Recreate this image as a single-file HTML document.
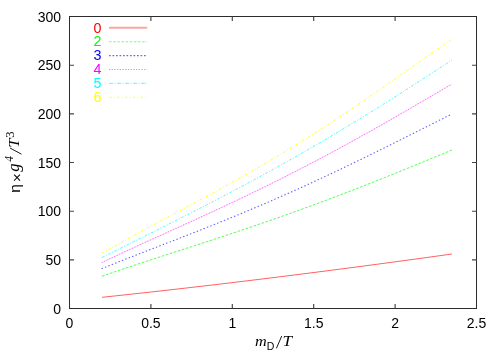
<!DOCTYPE html>
<html><head><meta charset="utf-8"><style>
html,body{margin:0;padding:0;background:#fff;}
svg{display:block;will-change:transform;font-family:"Liberation Sans",sans-serif;}
</style></head><body>
<svg width="500" height="350" viewBox="0 0 500 350">
<rect x="69.5" y="16.5" width="407.0" height="292.0" fill="none" stroke="#2c2c2c" stroke-width="1"/>
<path d="M150.9 308.5v-4.5M150.9 16.5v4.5" stroke="#444" stroke-width="1.15"/>
<path d="M232.3 308.5v-4.5M232.3 16.5v4.5" stroke="#444" stroke-width="1.15"/>
<path d="M313.7 308.5v-4.5M313.7 16.5v4.5" stroke="#444" stroke-width="1.15"/>
<path d="M395.1 308.5v-4.5M395.1 16.5v4.5" stroke="#444" stroke-width="1.15"/>
<path d="M69.5 259.8h4.5M476.5 259.8h-4.5" stroke="#444" stroke-width="1.15"/>
<path d="M69.5 211.2h4.5M476.5 211.2h-4.5" stroke="#444" stroke-width="1.15"/>
<path d="M69.5 162.5h4.5M476.5 162.5h-4.5" stroke="#444" stroke-width="1.15"/>
<path d="M69.5 113.8h4.5M476.5 113.8h-4.5" stroke="#444" stroke-width="1.15"/>
<path d="M69.5 65.2h4.5M476.5 65.2h-4.5" stroke="#444" stroke-width="1.15"/>
<text x="69.5" y="327.5" text-anchor="middle" font-size="14">0</text>
<text x="150.9" y="327.5" text-anchor="middle" font-size="14">0.5</text>
<text x="232.3" y="327.5" text-anchor="middle" font-size="14">1</text>
<text x="313.7" y="327.5" text-anchor="middle" font-size="14">1.5</text>
<text x="395.1" y="327.5" text-anchor="middle" font-size="14">2</text>
<text x="476.5" y="327.5" text-anchor="middle" font-size="14">2.5</text>
<text x="61" y="313.5" text-anchor="end" font-size="14">0</text>
<text x="61" y="264.8" text-anchor="end" font-size="14">50</text>
<text x="61" y="216.2" text-anchor="end" font-size="14">100</text>
<text x="61" y="167.5" text-anchor="end" font-size="14">150</text>
<text x="61" y="118.8" text-anchor="end" font-size="14">200</text>
<text x="61" y="70.2" text-anchor="end" font-size="14">250</text>
<text x="61" y="21.5" text-anchor="end" font-size="14">300</text>
<polyline points="102.0,297.30 107.0,296.77 112.0,296.24 117.0,295.71 122.0,295.17 127.0,294.63 132.0,294.09 137.0,293.54 142.0,292.99 147.0,292.44 152.0,291.89 157.0,291.33 162.0,290.77 167.0,290.21 172.0,289.64 177.0,289.07 182.0,288.50 187.0,287.93 192.0,287.35 197.0,286.77 202.0,286.19 207.0,285.60 212.0,285.02 217.0,284.43 222.0,283.83 227.0,283.24 232.0,282.64 237.0,282.04 242.0,281.44 247.0,280.83 252.0,280.23 257.0,279.62 262.0,279.00 267.0,278.39 272.0,277.77 277.0,277.15 282.0,276.53 287.0,275.90 292.0,275.27 297.0,274.64 302.0,274.01 307.0,273.38 312.0,272.74 317.0,272.10 322.0,271.46 327.0,270.81 332.0,270.17 337.0,269.52 342.0,268.87 347.0,268.22 352.0,267.56 357.0,266.90 362.0,266.24 367.0,265.58 372.0,264.92 377.0,264.25 382.0,263.58 387.0,262.91 392.0,262.24 397.0,261.56 402.0,260.89 407.0,260.21 412.0,259.53 417.0,258.84 422.0,258.16 427.0,257.47 432.0,256.78 437.0,256.09 442.0,255.39 447.0,254.70 452.0,254.00" fill="none" stroke="#ff0000" stroke-width="1" stroke-opacity="0.62"/>
<polyline points="102.0,276.19 107.0,274.47 112.0,272.76 117.0,271.06 122.0,269.38 127.0,267.71 132.0,266.04 137.0,264.39 142.0,262.75 147.0,261.11 152.0,259.48 157.0,257.85 162.0,256.23 167.0,254.61 172.0,252.99 177.0,251.37 182.0,249.76 187.0,248.14 192.0,246.52 197.0,244.89 202.0,243.27 207.0,241.64 212.0,240.00 217.0,238.36 222.0,236.71 227.0,235.06 232.0,233.40 237.0,231.73 242.0,230.05 247.0,228.36 252.0,226.67 257.0,224.96 262.0,223.25 267.0,221.52 272.0,219.79 277.0,218.04 282.0,216.28 287.0,214.51 292.0,212.73 297.0,210.93 302.0,209.13 307.0,207.31 312.0,205.48 317.0,203.63 322.0,201.78 327.0,199.91 332.0,198.03 337.0,196.14 342.0,194.24 347.0,192.32 352.0,190.40 357.0,188.46 362.0,186.51 367.0,184.55 372.0,182.58 377.0,180.60 382.0,178.61 387.0,176.61 392.0,174.60 397.0,172.58 402.0,170.56 407.0,168.53 412.0,166.49 417.0,164.44 422.0,162.39 427.0,160.33 432.0,158.27 437.0,156.21 442.0,154.15 447.0,152.08 452.0,150.01" fill="none" stroke="#00ff00" stroke-width="1" stroke-opacity="0.68" stroke-dasharray="2.6 1.6"/>
<polyline points="102.0,268.52 107.0,266.51 112.0,264.51 117.0,262.53 122.0,260.56 127.0,258.59 132.0,256.64 137.0,254.69 142.0,252.75 147.0,250.81 152.0,248.88 157.0,246.94 162.0,245.01 167.0,243.07 172.0,241.13 177.0,239.19 182.0,237.25 187.0,235.29 192.0,233.34 197.0,231.37 202.0,229.39 207.0,227.41 212.0,225.42 217.0,223.41 222.0,221.40 227.0,219.37 232.0,217.33 237.0,215.27 242.0,213.20 247.0,211.12 252.0,209.02 257.0,206.91 262.0,204.78 267.0,202.63 272.0,200.47 277.0,198.29 282.0,196.10 287.0,193.89 292.0,191.66 297.0,189.42 302.0,187.16 307.0,184.89 312.0,182.59 317.0,180.29 322.0,177.96 327.0,175.62 332.0,173.27 337.0,170.90 342.0,168.52 347.0,166.12 352.0,163.71 357.0,161.29 362.0,158.86 367.0,156.41 372.0,153.95 377.0,151.49 382.0,149.01 387.0,146.53 392.0,144.04 397.0,141.54 402.0,139.03 407.0,136.53 412.0,134.02 417.0,131.51 422.0,128.99 427.0,126.48 432.0,123.97 437.0,121.46 442.0,118.96 447.0,116.46 452.0,113.97" fill="none" stroke="#0000ff" stroke-width="1.15" stroke-opacity="0.62" stroke-linecap="round" stroke-dasharray="0.5 3.15"/>
<polyline points="102.0,262.46 107.0,260.08 112.0,257.72 117.0,255.37 122.0,253.04 127.0,250.73 132.0,248.42 137.0,246.12 142.0,243.84 147.0,241.55 152.0,239.28 157.0,237.01 162.0,234.74 167.0,232.47 172.0,230.20 177.0,227.93 182.0,225.66 187.0,223.38 192.0,221.10 197.0,218.82 202.0,216.52 207.0,214.22 212.0,211.91 217.0,209.59 222.0,207.26 227.0,204.92 232.0,202.57 237.0,200.21 242.0,197.83 247.0,195.43 252.0,193.03 257.0,190.60 262.0,188.17 267.0,185.71 272.0,183.24 277.0,180.76 282.0,178.25 287.0,175.73 292.0,173.20 297.0,170.64 302.0,168.07 307.0,165.48 312.0,162.87 317.0,160.24 322.0,157.60 327.0,154.94 332.0,152.26 337.0,149.57 342.0,146.85 347.0,144.13 352.0,141.38 357.0,138.62 362.0,135.84 367.0,133.05 372.0,130.25 377.0,127.43 382.0,124.60 387.0,121.75 392.0,118.89 397.0,116.03 402.0,113.15 407.0,110.26 412.0,107.36 417.0,104.46 422.0,101.55 427.0,98.63 432.0,95.71 437.0,92.78 442.0,89.86 447.0,86.93 452.0,84.00" fill="none" stroke="#ff00ff" stroke-width="0.9" stroke-opacity="0.22"/>
<polyline points="102.0,262.46 107.0,260.08 112.0,257.72 117.0,255.37 122.0,253.04 127.0,250.73 132.0,248.42 137.0,246.12 142.0,243.84 147.0,241.55 152.0,239.28 157.0,237.01 162.0,234.74 167.0,232.47 172.0,230.20 177.0,227.93 182.0,225.66 187.0,223.38 192.0,221.10 197.0,218.82 202.0,216.52 207.0,214.22 212.0,211.91 217.0,209.59 222.0,207.26 227.0,204.92 232.0,202.57 237.0,200.21 242.0,197.83 247.0,195.43 252.0,193.03 257.0,190.60 262.0,188.17 267.0,185.71 272.0,183.24 277.0,180.76 282.0,178.25 287.0,175.73 292.0,173.20 297.0,170.64 302.0,168.07 307.0,165.48 312.0,162.87 317.0,160.24 322.0,157.60 327.0,154.94 332.0,152.26 337.0,149.57 342.0,146.85 347.0,144.13 352.0,141.38 357.0,138.62 362.0,135.84 367.0,133.05 372.0,130.25 377.0,127.43 382.0,124.60 387.0,121.75 392.0,118.89 397.0,116.03 402.0,113.15 407.0,110.26 412.0,107.36 417.0,104.46 422.0,101.55 427.0,98.63 432.0,95.71 437.0,92.78 442.0,89.86 447.0,86.93 452.0,84.00" fill="none" stroke="#ff00ff" stroke-width="1.15" stroke-opacity="0.5" stroke-linecap="round" stroke-dasharray="0.01 2.8"/>
<polyline points="102.0,257.54 107.0,255.03 112.0,252.52 117.0,250.02 122.0,247.53 127.0,245.03 132.0,242.54 137.0,240.05 142.0,237.55 147.0,235.06 152.0,232.56 157.0,230.06 162.0,227.55 167.0,225.04 172.0,222.53 177.0,220.01 182.0,217.48 187.0,214.94 192.0,212.39 197.0,209.84 202.0,207.27 207.0,204.69 212.0,202.10 217.0,199.50 222.0,196.89 227.0,194.27 232.0,191.63 237.0,188.98 242.0,186.31 247.0,183.63 252.0,180.93 257.0,178.22 262.0,175.49 267.0,172.75 272.0,169.99 277.0,167.22 282.0,164.43 287.0,161.62 292.0,158.79 297.0,155.95 302.0,153.09 307.0,150.21 312.0,147.32 317.0,144.41 322.0,141.48 327.0,138.54 332.0,135.57 337.0,132.60 342.0,129.60 347.0,126.59 352.0,123.56 357.0,120.51 362.0,117.45 367.0,114.37 372.0,111.28 377.0,108.17 382.0,105.05 387.0,101.91 392.0,98.76 397.0,95.59 402.0,92.41 407.0,89.22 412.0,86.02 417.0,82.80 422.0,79.57 427.0,76.34 432.0,73.09 437.0,69.83 442.0,66.56 447.0,63.29 452.0,60.01" fill="none" stroke="#00ffff" stroke-width="1" stroke-opacity="0.7" stroke-dasharray="2.8 1.5 1 1.5"/>
<polyline points="102.0,253.32 107.0,250.42 112.0,247.57 117.0,244.74 122.0,241.94 127.0,239.17 132.0,236.42 137.0,233.69 142.0,230.98 147.0,228.28 152.0,225.60 157.0,222.92 162.0,220.25 167.0,217.59 172.0,214.93 177.0,212.26 182.0,209.60 187.0,206.93 192.0,204.25 197.0,201.57 202.0,198.88 207.0,196.17 212.0,193.46 217.0,190.73 222.0,187.98 227.0,185.22 232.0,182.44 237.0,179.64 242.0,176.82 247.0,173.97 252.0,171.11 257.0,168.22 262.0,165.31 267.0,162.37 272.0,159.41 277.0,156.43 282.0,153.42 287.0,150.38 292.0,147.32 297.0,144.23 302.0,141.11 307.0,137.97 312.0,134.80 317.0,131.61 322.0,128.39 327.0,125.15 332.0,121.88 337.0,118.59 342.0,115.27 347.0,111.94 352.0,108.58 357.0,105.20 362.0,101.80 367.0,98.39 372.0,94.95 377.0,91.50 382.0,88.04 387.0,84.56 392.0,81.08 397.0,77.58 402.0,74.07 407.0,70.56 412.0,67.05 417.0,63.53 422.0,60.01 427.0,56.49 432.0,52.98 437.0,49.48 442.0,45.98 447.0,42.49 452.0,39.02" fill="none" stroke="#ffff00" stroke-width="1" stroke-opacity="0.85" stroke-dasharray="2.7 1.9 0.9 1.9"/>
<text x="97.5" y="32.5" text-anchor="middle" font-size="14.3" fill="#ff0000">0</text>
<path d="M109 27.8H147.2" stroke="#ff0000" stroke-width="1.9" stroke-opacity="0.36" fill="none"/>
<text x="97.5" y="46.4" text-anchor="middle" font-size="14.3" fill="#00ff00">2</text>
<path d="M109 41.7H147.2" stroke="#00ff00" stroke-width="1.1" stroke-opacity="0.51" stroke-dasharray="2.6 1.55" fill="none"/>
<text x="97.5" y="60.3" text-anchor="middle" font-size="14.3" fill="#0000ff">3</text>
<path d="M109 55.6H146.2" stroke="#0000ff" stroke-width="1.1" stroke-opacity="0.6000000000000001" stroke-dasharray="1.7 1.8" fill="none"/>
<text x="97.5" y="74.2" text-anchor="middle" font-size="14.3" fill="#ff00ff">4</text>
<path d="M109 69.5H147.2" stroke="#ff00ff" stroke-width="1.1" stroke-opacity="0.54" stroke-dasharray="1.2 1.5" fill="none"/>
<text x="97.5" y="88.1" text-anchor="middle" font-size="14.3" fill="#00ffff">5</text>
<path d="M109 83.4H147.2" stroke="#00ffff" stroke-width="1.1" stroke-opacity="0.5249999999999999" stroke-dasharray="4.4 1.3 1 1.3" fill="none"/>
<text x="97.5" y="102.0" text-anchor="middle" font-size="14.3" fill="#ffff00">6</text>
<path d="M109 97.3H147.2" stroke="#ffff00" stroke-width="1.1" stroke-opacity="0.6375" stroke-dasharray="3 1.9 1 1.9" fill="none"/>
<g transform="translate(19.3,192) rotate(-90)"><text x="-0.8" y="0.9" font-size="15.5">η</text><text x="14.3" y="2.6" font-size="15" text-anchor="middle">×</text><text x="20.2" y="0" font-size="16.5" font-family="Liberation Serif" font-style="italic">g</text><text x="30.2" y="-6" font-size="11.5" font-family="Liberation Serif" font-style="italic">4</text><path d="M37.8 2.2L44 -9.3" stroke="#000" stroke-width="0.9"/><text transform="translate(44.3,0) scale(1.15,1)" x="0" y="0" font-size="14.5" font-family="Liberation Serif" font-style="italic">T</text><text x="54.3" y="-5.8" font-size="12.5" font-family="Liberation Serif">3</text></g>
<text transform="translate(255,346) scale(1.08,1)" x="0" y="0" font-size="15" font-family="Liberation Serif" font-style="italic">m</text>
<text x="266.7" y="350" font-size="10.5">D</text>
<path d="M276.4 348.4L281.7 336.1" stroke="#000" stroke-width="0.9"/>
<text transform="translate(282.4,346) scale(1.15,1)" x="0" y="0" font-size="15" font-family="Liberation Serif" font-style="italic">T</text>
</svg>
</body></html>
